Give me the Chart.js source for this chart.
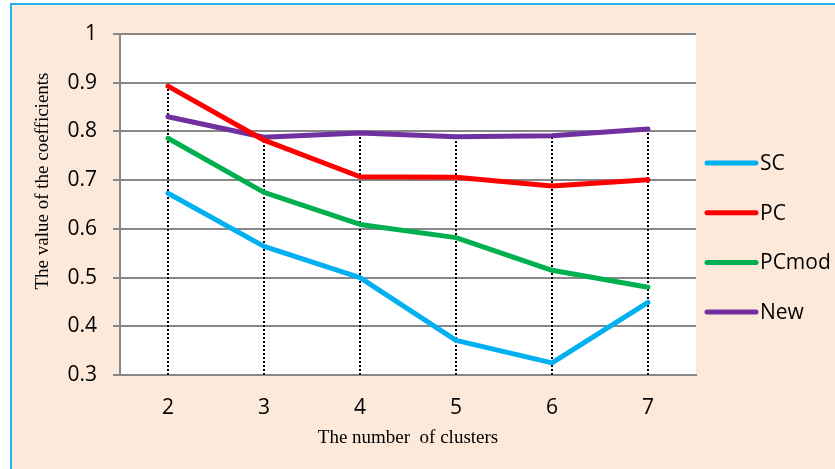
<!DOCTYPE html>
<html>
<head>
<meta charset="utf-8">
<script src="https://cdn.jsdelivr.net/npm/chart.js@4/dist/chart.umd.min.js"></script>
<style>
  html, body { margin: 0; padding: 0; width: 835px; height: 469px; overflow: hidden; background: #ffffff; }
  #frame { position: absolute; left: 10px; top: 3px; width: 840px; height: 480px; background: #FCE9DA; border-left: 2px solid #1FB1EC; border-top: 2px solid #1FB1EC; }
  #c { position: absolute; left: 0; top: 0; }
</style>
</head>
<body>
<div id="frame"></div>
<canvas id="c" width="835" height="469"></canvas>
<script>
const categories = ['2', '3', '4', '5', '6', '7'];
const seriesNames = ['SC', 'PC', 'PCmod', 'New'];
const scValues    = [0.673, 0.564, 0.500, 0.371, 0.325, 0.449];
const pcValues    = [0.893, 0.782, 0.707, 0.706, 0.688, 0.701];
const pcmodValues = [0.786, 0.675, 0.609, 0.582, 0.515, 0.480];
const newValues   = [0.830, 0.788, 0.797, 0.789, 0.791, 0.805];
const yTicks = [0.3, 0.4, 0.5, 0.6, 0.7, 0.8, 0.9, 1];
const colors = ['#00B0F0', '#FF0000', '#00B050', '#7030A0'];
const xTitle = 'The number  of clusters';
const yTitle = 'The value of the coefficients';

const TICK_FONT = { family: "'Open Sans', sans-serif", size: 21 };
const GRID = '#888888';

const plotBg = {
  id: 'plotBg',
  beforeDraw(chart) {
    const { ctx, chartArea: a } = chart;
    ctx.save();
    ctx.fillStyle = '#ffffff';
    ctx.fillRect(a.left, a.top, a.right - a.left, a.bottom - a.top);
    ctx.restore();
  }
};

const dropLines = {
  id: 'dropLines',
  beforeDatasetsDraw(chart) {
    const { ctx } = chart;
    const xs = chart.scales.x, ys = chart.scales.y;
    ctx.save();
    ctx.strokeStyle = '#000000';
    ctx.lineWidth = 2;
    ctx.setLineDash([2, 2]);
    categories.forEach((c, i) => {
      const max = Math.max(...chart.data.datasets.map(d => d.data[i]));
      const x = Math.round(xs.getPixelForValue(i));
      ctx.beginPath();
      ctx.moveTo(x, ys.getPixelForValue(yTicks[0]));
      ctx.lineTo(x, ys.getPixelForValue(max));
      ctx.stroke();
    });
    ctx.restore();
  }
};

const sideLegend = {
  id: 'sideLegend',
  afterDraw(chart) {
    const { ctx, chartArea: a } = chart;
    ctx.save();
    ctx.font = "21px 'Open Sans', sans-serif";
    ctx.textBaseline = 'middle';
    ctx.textAlign = 'left';
    chart.data.datasets.forEach((d, i) => {
      const y = 163 + i * 49.7;
      ctx.strokeStyle = d.borderColor;
      ctx.lineWidth = 5;
      ctx.lineCap = 'round';
      ctx.beginPath();
      ctx.moveTo(a.right + 11, y);
      ctx.lineTo(a.right + 60, y);
      ctx.stroke();
      ctx.fillStyle = '#000000';
      ctx.fillText(d.label, a.right + 64, y + 1);
    });
    ctx.restore();
  }
};

const yTitlePlugin = {
  id: 'yTitlePlugin',
  afterDraw(chart) {
    const { ctx } = chart;
    ctx.save();
    ctx.translate(43, 181);
    ctx.rotate(-Math.PI / 2);
    ctx.font = "19px 'Liberation Serif', serif";
    ctx.fillStyle = '#000000';
    ctx.textAlign = 'center';
    ctx.textBaseline = 'middle';
    ctx.fillText(yTitle, 0, 0);
    ctx.restore();
  }
};

const valueSets = [scValues, pcValues, pcmodValues, newValues];

new Chart(document.getElementById('c'), {
  type: 'line',
  data: {
    labels: categories,
    datasets: seriesNames.map((n, i) => ({
      label: n,
      data: valueSets[i],
      borderColor: colors[i],
      backgroundColor: colors[i],
      borderWidth: 5,
      pointRadius: 0,
      tension: 0,
      fill: false,
      borderCapStyle: 'round',
      borderJoinStyle: 'round'
    }))
  },
  options: {
    responsive: false,
    animation: false,
    layout: { padding: { top: 34, right: 139, left: 0, bottom: 0 } },
    plugins: { legend: { display: false }, tooltip: { enabled: false } },
    scales: {
      x: {
        type: 'category',
        offset: true,
        grid: { display: false, drawTicks: false },
        border: { display: true, color: GRID, width: 2 },
        ticks: { color: '#000000', font: TICK_FONT, padding: 20, maxRotation: 0 },
        title: { display: true, text: xTitle, color: '#000000', font: { family: "'Liberation Serif', serif", size: 19 }, padding: { top: 0, bottom: 20 } },
        afterFit(s) { s.height = 94; }
      },
      y: {
        min: 0.3,
        max: 1,
        afterBuildTicks(s) { s.ticks = yTicks.map(v => ({ value: v })); },
        grid: { color: GRID, lineWidth: 2, tickLength: 7, drawTicks: true },
        border: { display: true, color: GRID, width: 2 },
        ticks: {
          color: '#000000', font: TICK_FONT, padding: 16,
          callback: v => String(Number(v.toFixed(1)))
        },
        afterFit(s) { s.width = 120; }
      }
    }
  },
  plugins: [plotBg, dropLines, sideLegend, yTitlePlugin]
});
</script>
</body>
</html>
